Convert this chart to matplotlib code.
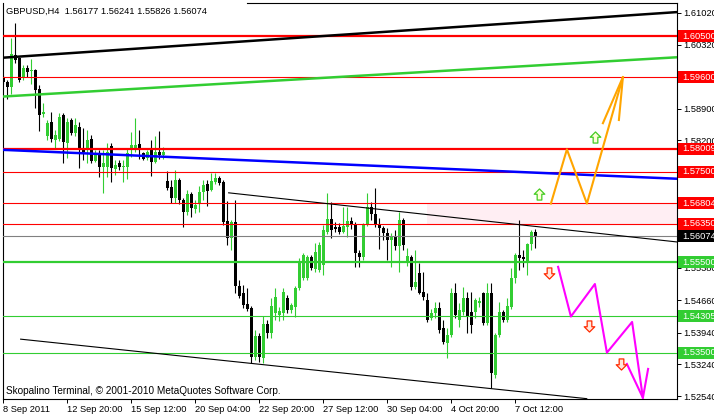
import numpy as np
import matplotlib
matplotlib.use('Agg')
import matplotlib.pyplot as plt
import matplotlib.transforms as mtransforms
from matplotlib.path import Path
from matplotlib.patches import Rectangle

plt.rcParams['font.family'] = ['DejaVu Sans Condensed', 'Liberation Sans', 'DejaVu Sans']
FS = 6.7

title = 'GBPUSD,H4  1.56177 1.56241 1.55826 1.56074'
copyright_text = 'Skopalino Terminal, \u00a9 2001-2010 MetaQuotes Software Corp.'

opens = [
    1.5961, 1.5949, 1.5938, 1.6009, 1.6003, 1.5961, 1.5980, 1.5974, 1.5976, 1.5934,
    1.5879, 1.5830, 1.5861, 1.5821, 1.5823, 1.5876, 1.5814, 1.5865, 1.5837, 1.5850,
    1.5799, 1.5801, 1.5823, 1.5775, 1.5792, 1.5761, 1.5761, 1.5808, 1.5757, 1.5770,
    1.5761, 1.5761, 1.5803, 1.5799, 1.5812, 1.5792, 1.5781, 1.5803, 1.5772, 1.5794,
    1.5788, 1.5730, 1.5717, 1.5693, 1.5732, 1.5688, 1.5662, 1.5702, 1.5668, 1.5679,
    1.5706, 1.5724, 1.5710, 1.5728, 1.5737, 1.5728, 1.5642, 1.5604, 1.5640, 1.5498,
    1.5482, 1.5458, 1.5449, 1.5341, 1.5387, 1.5338, 1.5414, 1.5394, 1.5438, 1.5434,
    1.5438, 1.5471, 1.5445, 1.5451, 1.5493, 1.5516, 1.5516, 1.5562, 1.5535, 1.5533,
    1.5544, 1.5617, 1.5646, 1.5628, 1.5628, 1.5617, 1.5628, 1.5642, 1.5633, 1.5571,
    1.5562, 1.5635, 1.5673, 1.5657, 1.5635, 1.5626, 1.5615, 1.5600, 1.5606, 1.5586,
    1.5644, 1.5549, 1.5562, 1.5496, 1.5527, 1.5485, 1.5467, 1.5427, 1.5438, 1.5449,
    1.5405, 1.5372, 1.5389, 1.5482, 1.5422, 1.5440, 1.5471, 1.5440, 1.5440, 1.5460,
    1.5482, 1.5416, 1.5482, 1.5301, 1.5389, 1.5440, 1.5422, 1.5451, 1.5516, 1.5566,
    1.5562, 1.5551, 1.5591, 1.56177]
highs = [
    1.5965, 1.5954, 1.6047, 1.6080, 1.6005, 1.5987, 1.5987, 1.6000, 1.5978, 1.5943,
    1.5903, 1.5865, 1.5883, 1.5843, 1.5881, 1.5881, 1.5870, 1.5870, 1.5870, 1.5861,
    1.5848, 1.5843, 1.5832, 1.5799, 1.5799, 1.5799, 1.5814, 1.5814, 1.5777, 1.5777,
    1.5777, 1.5803, 1.5839, 1.5870, 1.5843, 1.5794, 1.5799, 1.5821, 1.5830, 1.5841,
    1.5806, 1.5752, 1.5732, 1.5755, 1.5737, 1.5693, 1.5710, 1.5706, 1.5688, 1.5719,
    1.5732, 1.5732, 1.5748, 1.5748, 1.5741, 1.5732, 1.5686, 1.5644, 1.5688, 1.5511,
    1.5500, 1.5493, 1.5454, 1.5400, 1.5394, 1.5431, 1.5422, 1.5471, 1.5493, 1.5451,
    1.5493, 1.5478, 1.5460, 1.5498, 1.5560, 1.5571, 1.5566, 1.5566, 1.5593, 1.5595,
    1.5633, 1.5704, 1.5684, 1.5640, 1.5637, 1.5673, 1.5673, 1.5651, 1.5640, 1.5577,
    1.5637, 1.5704, 1.5684, 1.5715, 1.5648, 1.5631, 1.5626, 1.5615, 1.5622, 1.5662,
    1.5648, 1.5582, 1.5566, 1.5577, 1.5549, 1.5529, 1.5482, 1.5447, 1.5462, 1.5462,
    1.5422, 1.5405, 1.5493, 1.5504, 1.5460, 1.5496, 1.5485, 1.5485, 1.5471, 1.5473,
    1.5485, 1.5504, 1.5504, 1.5394, 1.5462, 1.5445, 1.5471, 1.5538, 1.5571, 1.5644,
    1.5577, 1.5593, 1.5622, 1.56241]
lows = [
    1.5945, 1.5912, 1.5923, 1.5992, 1.5949, 1.5954, 1.5961, 1.5945, 1.5892, 1.5841,
    1.5872, 1.5821, 1.5817, 1.5803, 1.5819, 1.5770, 1.5781, 1.5832, 1.5830, 1.5759,
    1.5777, 1.5770, 1.5770, 1.5772, 1.5739, 1.5704, 1.5739, 1.5728, 1.5744, 1.5755,
    1.5728, 1.5735, 1.5783, 1.5794, 1.5779, 1.5777, 1.5777, 1.5741, 1.5770, 1.5779,
    1.5779, 1.5710, 1.5682, 1.5682, 1.5679, 1.5628, 1.5655, 1.5651, 1.5659, 1.5662,
    1.5688, 1.5675, 1.5708, 1.5724, 1.5721, 1.5633, 1.5589, 1.5577, 1.5482, 1.5471,
    1.5449, 1.5442, 1.5327, 1.5334, 1.5330, 1.5327, 1.5383, 1.5383, 1.5422, 1.5420,
    1.5422, 1.5438, 1.5438, 1.5429, 1.5489, 1.5511, 1.5511, 1.5533, 1.5529, 1.5529,
    1.5522, 1.5613, 1.5604, 1.5617, 1.5613, 1.5615, 1.5606, 1.5624, 1.5540, 1.5540,
    1.5555, 1.5631, 1.5644, 1.5628, 1.5580, 1.5600, 1.5555, 1.5540, 1.5577, 1.5529,
    1.5577, 1.5542, 1.5489, 1.5491, 1.5480, 1.5467, 1.5418, 1.5422, 1.5427, 1.5394,
    1.5369, 1.5338, 1.5385, 1.5427, 1.5407, 1.5434, 1.5394, 1.5394, 1.5427, 1.5451,
    1.5412, 1.5412, 1.5272, 1.5294, 1.5385, 1.5418, 1.5418, 1.5447, 1.5504, 1.5533,
    1.5540, 1.5522, 1.5577, 1.55826]
closes = [
    1.5949, 1.5938, 1.6011, 1.5998, 1.5954, 1.5980, 1.5972, 1.5976, 1.5932, 1.5876,
    1.5883, 1.5859, 1.5823, 1.5832, 1.5872, 1.5817, 1.5861, 1.5837, 1.5854, 1.5799,
    1.5794, 1.5821, 1.5775, 1.5792, 1.5761, 1.5770, 1.5794, 1.5759, 1.5766, 1.5761,
    1.5764, 1.5792, 1.5810, 1.5810, 1.5799, 1.5779, 1.5794, 1.5772, 1.5794, 1.5788,
    1.5794, 1.5715, 1.5693, 1.5732, 1.5688, 1.5662, 1.5702, 1.5671, 1.5677, 1.5706,
    1.5721, 1.5708, 1.5730, 1.5737, 1.5726, 1.5640, 1.5604, 1.5640, 1.5498, 1.5476,
    1.5456, 1.5447, 1.5341, 1.5387, 1.5341, 1.5414, 1.5394, 1.5454, 1.5473, 1.5442,
    1.5485, 1.5445, 1.5456, 1.5493, 1.5549, 1.5566, 1.5562, 1.5538, 1.5573, 1.5589,
    1.5622, 1.5646, 1.5622, 1.5624, 1.5617, 1.5631, 1.5642, 1.5633, 1.5571, 1.5562,
    1.5635, 1.5673, 1.5657, 1.5633, 1.5626, 1.5615, 1.5600, 1.5606, 1.5586, 1.5644,
    1.5589, 1.5564, 1.5496, 1.5507, 1.5482, 1.5473, 1.5422, 1.5438, 1.5449, 1.5400,
    1.5374, 1.5389, 1.5482, 1.5434, 1.5445, 1.5471, 1.5429, 1.5412, 1.5467, 1.5465,
    1.5416, 1.5482, 1.5305, 1.5389, 1.5440, 1.5422, 1.5454, 1.5516, 1.5566, 1.5560,
    1.5558, 1.5591, 1.5617, 1.56074]

date_bars = [0, 16, 32, 48, 64, 80, 96, 112, 128]
date_labels = ['8 Sep 2011', '12 Sep 20:00', '15 Sep 12:00', '20 Sep 04:00', '22 Sep 20:00',
               '27 Sep 12:00', '30 Sep 04:00', '4 Oct 20:00', '7 Oct 12:00']
price_ticks = [1.61020, 1.60320, 1.58900, 1.58200, 1.55380, 1.54660, 1.53940, 1.53240, 1.52540]

res_levels = [1.60500, 1.59600, 1.58009, 1.57500, 1.56804, 1.56350]
res_widths = [1.6, 0.8, 1.6, 0.8, 0.8, 0.8]
sup_levels = [1.55500, 1.54305, 1.53500]
sup_widths = [1.6, 0.8, 0.8]
bid_price = 1.56074

zone_start = 105.9
zone_low, zone_high = 1.56350, 1.56804

# trend lines: (bar0, price0, bar1, price1)
black_channel = (-0.1, 1.6003, 168.5, 1.6104)
green_channel = (-0.1, 1.5917, 168.5, 1.6004)
blue_line = (-0.1, 1.5799, 168.5, 1.5735)
upper_thin = (56.2, 1.5704, 168.5, 1.5595)
lower_thin = (4.2, 1.5380, 146.0, 1.5248)

up_path_bars = [136.9, 140.9, 145.9, 154.9]
up_path_prices = [1.5680, 1.5800, 1.5680, 1.5960]
up_head_bars = [149.9, 154.9, 153.9]
up_head_prices = [1.5858, 1.5960, 1.5865]

down_path_bars = [138.7, 141.9, 147.9, 150.9, 157.2, 159.9]
down_path_prices = [1.5540, 1.5430, 1.5502, 1.5350, 1.5418, 1.5250]
down_head_bars = [155.9, 159.9, 161.2]
down_head_prices = [1.5325, 1.5250, 1.5314]

up_arrow_bars = [133.9, 147.9]
up_arrow_prices = [1.5701, 1.5827]
down_arrow_bars = [136.4, 146.4, 154.4]
down_arrow_prices = [1.5526, 1.5409, 1.5325]

W, H = 714, 416
fig = plt.figure(figsize=(W / 100, H / 100), dpi=100)
ax = fig.add_axes([3 / W, 1 - 399 / H, 674 / W, 396.5 / H])
ax.set_xlim(-0.075, 168.425)
ax.set_ylim(1.52474, 1.61252)

ax.fill_between([zone_start, 170], zone_low, zone_high, color='#ffeef3', lw=0, zorder=0)

x = np.arange(len(opens))
o = np.array(opens)
c = np.array(closes)
colors = np.where(c >= o, '#32cd32', 'black')
ax.vlines(x, lows, highs, colors=colors, lw=0.8, zorder=2)
ax.bar(x, np.maximum(np.abs(c - o), 0.00012), bottom=np.minimum(o, c), width=0.72,
       color=colors, linewidth=0, zorder=2)

for lvl, lw in zip(res_levels, res_widths):
    ax.axhline(lvl, color='red', lw=lw, zorder=3)
for lvl, lw in zip(sup_levels, sup_widths):
    ax.axhline(lvl, color='#32cd32', lw=lw, zorder=3)
ax.axhline(bid_price, color='#808080', lw=0.8, zorder=3)

for line, col, lw in [(black_channel, 'black', 1.8), (green_channel, '#32cd32', 1.8),
                      (blue_line, 'blue', 1.8), (upper_thin, 'black', 0.8), (lower_thin, 'black', 0.8)]:
    ax.plot([line[0], line[2]], [line[1], line[3]], color=col, lw=lw, zorder=3,
            solid_capstyle='butt')

ax.plot(up_path_bars, up_path_prices, color='#ffa500', lw=1.5, zorder=4)
ax.plot(up_head_bars, up_head_prices, color='#ffa500', lw=1.5, zorder=4)
ax.plot(down_path_bars, down_path_prices, color='#ff00ff', lw=1.5, zorder=4)
ax.plot(down_head_bars, down_head_prices, color='#ff00ff', lw=1.5, zorder=4)

arrow_up = Path([(0, 1), (0.95, 0.05), (0.42, 0.05), (0.42, -1), (-0.42, -1), (-0.42, 0.05),
                 (-0.95, 0.05), (0, 1)], closed=True)
arrow_down = Path([(vx, -vy) for vx, vy in arrow_up.vertices], closed=True)
ax.plot(up_arrow_bars, up_arrow_prices, ls='none', marker=arrow_up, markersize=8,
        mfc='#ffffd8', mec='#44cc22', mew=0.9, zorder=5)
ax.plot(down_arrow_bars, down_arrow_prices, ls='none', marker=arrow_down, markersize=8,
        mfc='#ffe8dc', mec='#ff2a00', mew=0.9, zorder=5)

for side in ['left', 'right', 'bottom']:
    ax.spines[side].set_color('black')
    ax.spines[side].set_linewidth(0.8)
ax.spines['top'].set_visible(False)
ax.axhline(1.61252, xmin=(247 - 3) / 674, xmax=1, color='black', lw=0.8, clip_on=False)

ax.yaxis.tick_right()
ax.set_yticks(price_ticks)
ax.set_yticklabels([f'{p:.5f}' for p in price_ticks])
ax.tick_params(axis='y', length=3, width=0.7, pad=1.5, labelsize=FS, colors='black')
ax.set_xticks(date_bars)
ax.set_xticklabels(date_labels, ha='left')
ax.tick_params(axis='x', length=3, width=0.7, pad=1.5, labelsize=FS, colors='black')

trans = mtransforms.blended_transform_factory(ax.transAxes, ax.transData)
box_h = 12 / 4516.5
boxes = [(lvl, 'red') for lvl in res_levels] + [(bid_price, 'black')] + \
        [(lvl, '#32cd32') for lvl in sup_levels]
for lvl, col in boxes:
    ax.add_patch(Rectangle((1.0015, lvl - box_h / 2), 0.06, box_h, transform=trans,
                           facecolor=col, edgecolor='none', clip_on=False, zorder=6))
    ax.text(1.0075, lvl, f'{lvl:.5f}', transform=trans, color='white', fontsize=FS,
            va='center', ha='left', clip_on=False, zorder=7)

fig.text(6 / W, 1 - 11 / H, title, fontsize=FS, va='center', ha='left')
fig.text(6 / W, 1 - 390.5 / H, copyright_text, fontsize=7.2, va='center', ha='left')

fig.savefig('out.png', dpi=100)
